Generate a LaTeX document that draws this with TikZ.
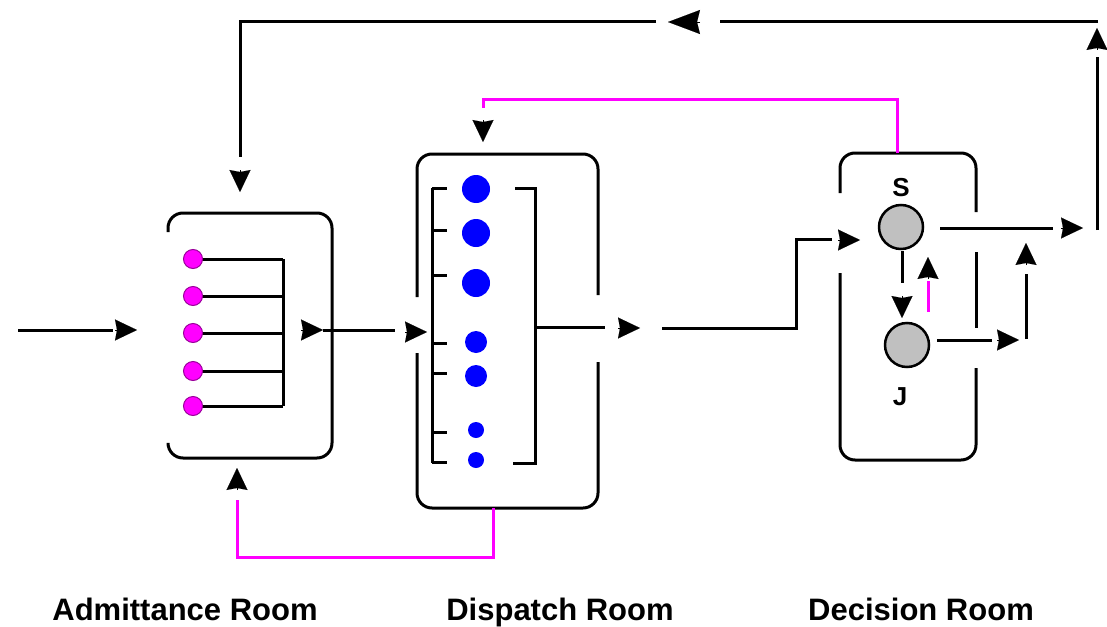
\documentclass[tikz,border=0pt]{standalone}
\usepackage{fontspec}
\setmainfont{Liberation Sans}
\usetikzlibrary{arrows.meta,positioning}
\definecolor{linkpink}{RGB}{255,0,255}
\definecolor{dotblue}{RGB}{0,0,255}
\definecolor{ballgray}{RGB}{192,192,192}

\begin{document}
\begin{tikzpicture}[
  x=1pt,y=-1pt,
  wire/.style={line width=3pt},
  link/.style={line width=3pt,linkpink},
  room/.style={line width=3pt,rounded corners=15pt},
  head/.style={-{Stealth[length=22pt,width=21pt,inset=2pt]},line width=0.1pt},
  bighead/.style={-{Stealth[length=32pt,width=24pt,inset=3pt]},line width=0.1pt},
  ball/.style={circle,draw,line width=2.5pt,fill=ballgray,minimum size=44pt,inner sep=0pt},
  pin/.style={circle,fill=linkpink,draw=black!40!linkpink,line width=1pt,minimum size=19pt,inner sep=0pt},
  dot/.style={circle,fill=dotblue,inner sep=0pt,minimum size=#1},
  caption/.style={font=\bfseries\fontsize{31}{31}\selectfont,anchor=base},
  tag/.style={font=\bfseries\fontsize{26}{26}\selectfont}]
\useasboundingbox (0,0) rectangle (1107,626);

% rooms
\draw[room] (168,232) -- (168,213) -- (332,213) -- (332,458) -- (168,458) -- (168,445);
\draw[room] (417,353) -- (417,508) -- (598,508) -- (598,362);
\draw[room] (598,295) -- (598,154) -- (417,154) -- (417,297);
\draw[room] (840,193) -- (840,153) -- (976,153) -- (976,212);
\draw[room] (976,252) -- (976,328);
\draw[room] (976,368) -- (976,460) -- (840,460) -- (840,273);

% admittance room
\coordinate (bus) at (283,259);
\foreach \y [count=\i] in {259,296,333,371,406} {
  \draw[wire] (193,\y) -- (283,\y);
  \node[pin] (p\i) at (193,\y) {};
}
\draw[wire] (bus) -- (283,406);

% dispatch room
\draw[wire] (432,188) -- (432,463);
\foreach \y in {188,230,275,343,373,432,462}
  \draw[wire] (432,\y) -- (447,\y);
\draw[wire] (515,188) -- (535,188) -- (535,463) -- (513,463);
\node[dot=28pt] (d1) at (476,189) {};
\node[dot=28pt] (d2) at (476,233) {};
\node[dot=28pt] (d3) at (476,283) {};
\node[dot=22pt] (d4) at (476,342) {};
\node[dot=22pt] (d5) at (476,376) {};
\node[dot=16pt] (d6) at (476,430) {};
\node[dot=16pt] (d7) at (476,460) {};

% decision room
\node[ball] (S) at (901,227) {};
\node[ball] (J) at (907,345) {};
\node[tag] (Slabel) at (901,188) {S};
\node[tag] (Jlabel) at (900,397) {J};

% flow
\draw[wire] (18,330) -- (113,330);
\draw[head] (115,330) -- (137,330);
\draw[head] (301,330) -- (323,330);
\draw[wire] (323,330) -- (395,330);
\draw[head] (405,332) -- (427,332);
\draw[wire] (535,327) -- (605,327);
\draw[head] (618,328) -- (640,328);
\draw[wire] (662,328) -- (796,328) -- (796,239) -- (832,239);
\draw[head] (838,240) -- (860,240);
\draw[wire] (902,251) -- (902,283);
\draw[head] (902,296) -- (902,318);
\draw[link] (928,312) -- (928,281);
\draw[head] (928,279) -- (928,257);
\draw[wire] (940,228) -- (1053,228);
\draw[head] (1061,228) -- (1083,228);
\draw[wire] (937,340) -- (992,340);
\draw[head] (997,340) -- (1019,340);
\draw[wire] (1026,339) -- (1026,274);
\draw[head] (1026,265) -- (1026,243);

% feedback
\draw[wire] (1097,230) -- (1097,57);
\draw[head] (1097,50) -- (1097,28);
\draw[wire] (1098,22) -- (720,22);
\draw[bighead] (700,22) -- (668,22);
\draw[wire] (656,22) -- (240,22) -- (240,157);
\draw[head] (240,170) -- (240,192);
\draw[link] (897,153) -- (897,99) -- (483,99) -- (483,108);
\draw[head] (483,120) -- (483,142);
\draw[link] (493,508) -- (493,557) -- (237,557) -- (237,500);
\draw[head] (237,490) -- (237,468);

% captions
\node[caption] (c1) at (185,620) {Admittance Room};
\node[caption] (c2) at (560,620) {Dispatch Room};
\node[caption] (c3) at (921,620) {Decision Room};
\end{tikzpicture}
\end{document}
